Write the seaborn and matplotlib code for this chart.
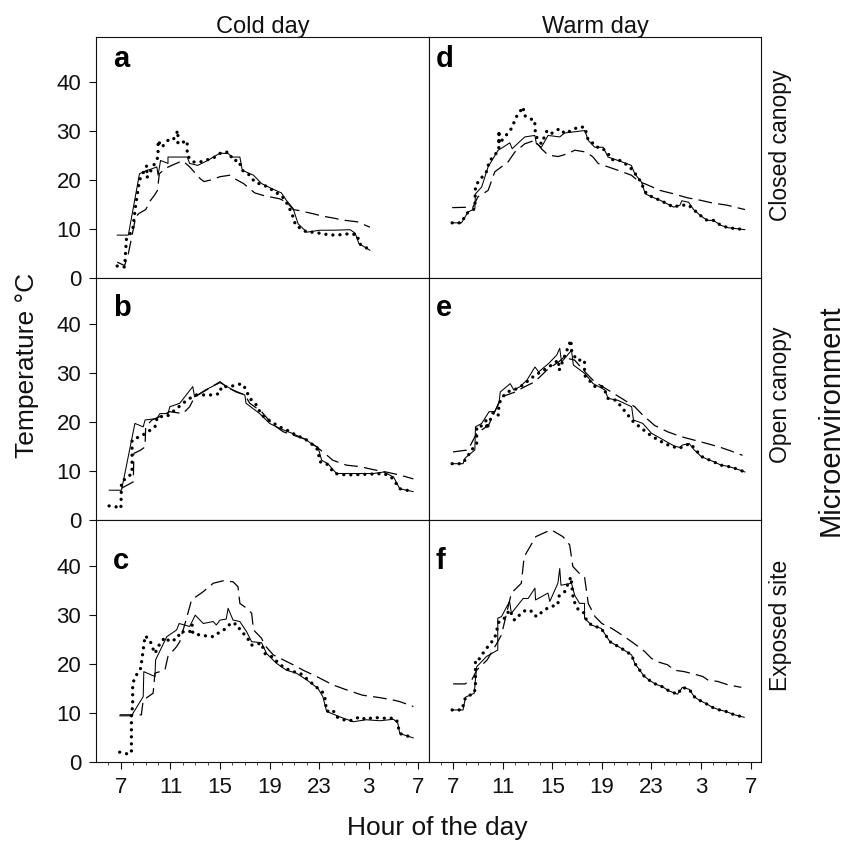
import matplotlib
matplotlib.use("Agg")
import matplotlib.pyplot as plt
import seaborn as sns
from matplotlib.ticker import FixedLocator, MultipleLocator, NullLocator

# ---- data (hour of day, temperature in degC) ----
# hours past midnight continue past 24, so 27 = 3 am, 31 = 7 am next day

# a: cold day, closed canopy
a_solid_h = [6.7, 7.6, 8.5, 9.1, 9.5, 9.9, 10.0, 10.2, 10.8, 10.8, 11.75, 12.35, 12.55, 13.2, 14.0, 15.0, 15.65, 16.0, 16.6, 16.8, 17.7, 18.35, 19.15, 19.95, 20.35, 20.9, 21.3, 22.0, 23.05, 24.1, 25.5, 25.9, 26.2, 27.1]
a_solid_t = [8.8, 8.8, 21.3, 22.0, 22.3, 22.7, 21.0, 24.0, 23.4, 24.7, 24.7, 24.7, 23.4, 23.0, 24.0, 25.5, 25.4, 24.7, 24.7, 22.0, 21.0, 19.3, 18.3, 17.4, 15.9, 14.2, 11.1, 9.4, 9.8, 9.8, 9.9, 9.2, 7.1, 5.7]
a_dot_h = [6.7, 7.3, 7.45, 7.95, 8.2, 8.5, 9.1, 9.1, 9.5, 10.0, 10.0, 10.3, 10.8, 11.2, 11.6, 11.6, 12.35, 12.35, 12.85, 13.4, 14.05, 14.6, 15.15, 15.7, 16.05, 16.5, 16.8, 17.4, 17.8, 18.35, 18.9, 19.4, 19.95, 20.35, 20.8, 21.1, 22.0, 22.6, 23.2, 23.7, 24.25, 24.8, 25.5, 26.1, 26.2, 26.7, 27.1]
a_dot_t = [2.5, 2.3, 8.1, 9.8, 15.0, 20.0, 23.0, 20.5, 22.3, 24.7, 28.1, 26.7, 28.1, 28.1, 30.1, 27.4, 28.0, 25.0, 23.7, 23.7, 24.2, 24.7, 25.7, 25.7, 24.0, 24.0, 22.0, 21.0, 19.6, 19.1, 18.6, 17.6, 16.9, 15.5, 13.2, 10.8, 9.4, 9.4, 9.1, 8.9, 8.8, 8.9, 9.1, 8.8, 7.1, 6.4, 5.7]
a_dash_h = [6.7, 7.3, 7.6, 8.2, 8.45, 9.0, 9.4, 9.7, 9.95, 10.1, 10.6, 11.1, 11.75, 12.0, 12.55, 13.4, 13.7, 14.2, 15.0, 15.8, 16.1, 16.9, 17.8, 18.6, 19.8, 20.4, 20.9, 21.4, 22.6, 23.2, 24.3, 24.8, 26.1, 27.1]
a_dash_t = [3.3, 2.6, 5.0, 12.5, 13.2, 14.0, 15.9, 16.9, 17.9, 21.3, 22.4, 23.0, 23.7, 23.9, 22.7, 20.3, 19.7, 20.0, 20.7, 21.0, 20.4, 19.3, 17.4, 16.8, 16.2, 15.5, 14.0, 13.8, 13.1, 12.7, 12.2, 11.9, 11.5, 10.4]

# b: cold day, open canopy
b_solid_h = [6.05, 7.05, 8.13, 8.8, 8.95, 9.9, 10.15, 10.8, 10.95, 11.75, 12.8, 12.95, 13.8, 15.0, 16.05, 17.0, 17.1, 18.2, 19.0, 19.8, 20.9, 22.0, 22.5, 22.9, 23.2, 23.7, 24.4, 25.2, 26.5, 27.35, 28.2, 29.0, 29.5, 30.6]
b_solid_t = [6.1, 6.1, 19.7, 19.0, 20.4, 20.7, 21.7, 21.7, 23.1, 23.8, 27.2, 25.1, 26.5, 28.0, 26.5, 25.5, 23.8, 21.7, 19.7, 18.7, 17.6, 16.3, 15.3, 14.9, 12.2, 11.5, 9.5, 9.5, 9.5, 9.5, 9.8, 8.8, 6.4, 5.8]
b_dot_h = [6.05, 6.65, 7.0, 7.05, 7.9, 7.9, 8.5, 8.95, 9.75, 9.95, 10.7, 11.5, 12.0, 12.55, 13.1, 13.9, 14.45, 15.0, 15.1, 15.8, 16.75, 17.15, 17.3, 17.95, 18.35, 19.15, 19.8, 20.5, 21.0, 22.0, 22.5, 22.9, 23.05, 23.6, 24.25, 25.2, 26.3, 27.35, 28.2, 28.8, 29.2, 29.5, 30.6]
b_dot_t = [2.9, 2.7, 2.4, 7.8, 9.5, 16.3, 17.0, 17.6, 19.0, 21.1, 21.1, 22.7, 23.8, 24.8, 25.5, 25.5, 25.5, 25.8, 27.2, 27.2, 27.8, 26.5, 25.1, 23.4, 21.4, 20.0, 19.0, 18.2, 17.5, 16.3, 15.3, 14.3, 11.9, 11.5, 9.5, 9.2, 9.3, 9.4, 9.5, 8.8, 7.5, 6.4, 5.8]
b_dash_h = [7.05, 8.0, 8.05, 8.55, 8.95, 9.0, 9.5, 10.15, 10.95, 12.0, 12.55, 12.95, 13.9, 15.0, 15.5, 16.3, 17.0, 17.4, 18.35, 19.15, 20.1, 20.9, 22.0, 22.8, 23.45, 24.1, 25.2, 26.3, 27.35, 28.4, 29.5, 30.6]
b_dash_t = [6.5, 7.8, 13.6, 14.2, 14.9, 19.0, 20.4, 21.1, 22.1, 21.7, 23.1, 25.1, 26.5, 28.2, 27.2, 26.1, 25.5, 23.8, 22.1, 19.7, 18.0, 17.3, 16.4, 14.9, 13.6, 12.2, 11.2, 10.9, 10.3, 9.8, 9.2, 8.4]

# c: cold day, exposed site
c_solid_h = [6.9, 7.85, 8.8, 8.85, 9.75, 9.8, 10.7, 11.5, 11.7, 12.55, 13.0, 13.65, 14.45, 14.7, 15.0, 15.5, 15.65, 16.05, 16.6, 17.15, 17.55, 18.35, 18.75, 19.55, 20.35, 21.15, 22.0, 22.9, 23.3, 23.6, 24.65, 25.75, 26.8, 27.9, 29.0, 29.35, 29.5, 30.6]
c_solid_t = [9.4, 9.4, 13.3, 18.4, 17.4, 20.8, 25.5, 26.9, 28.2, 27.6, 29.9, 28.2, 28.6, 27.9, 28.9, 29.1, 31.3, 28.9, 28.6, 26.5, 24.5, 24.3, 22.1, 20.1, 18.7, 18.1, 16.7, 15.0, 13.3, 10.3, 9.2, 8.2, 8.6, 8.4, 8.7, 7.9, 5.8, 4.9]
c_dot_h = [6.9, 7.6, 7.85, 7.85, 7.95, 7.95, 8.2, 8.6, 8.8, 8.95, 9.35, 9.5, 9.75, 10.0, 10.55, 10.95, 11.6, 11.75, 12.55, 12.75, 12.8, 13.65, 14.05, 14.45, 15.0, 15.5, 15.9, 16.45, 16.6, 17.15, 17.55, 18.35, 18.6, 19.3, 19.7, 20.25, 20.9, 21.45, 22.25, 22.8, 23.25, 23.45, 23.6, 24.1, 24.4, 24.95, 25.5, 26.3, 26.8, 27.35, 28.15, 28.7, 29.25, 29.35, 29.5, 30.6]
c_dot_t = [2.0, 1.6, 1.9, 9.9, 11.3, 16.0, 17.5, 19.1, 22.8, 25.7, 24.8, 23.6, 22.1, 23.5, 25.4, 24.5, 25.2, 26.5, 26.5, 27.9, 26.2, 25.7, 25.7, 25.5, 26.5, 27.2, 28.4, 27.9, 26.9, 25.5, 23.8, 24.2, 22.1, 21.3, 20.1, 19.1, 18.4, 18.1, 16.4, 15.2, 14.3, 13.3, 10.3, 10.6, 9.2, 8.6, 8.4, 9.2, 8.6, 9.1, 8.9, 9.0, 8.6, 7.5, 5.8, 4.9]
c_dash_h = [6.9, 8.65, 8.8, 9.6, 9.75, 10.55, 10.8, 11.5, 11.75, 12.3, 12.7, 13.65, 14.45, 15.25, 16.05, 16.45, 16.6, 17.15, 17.55, 17.7, 18.35, 18.6, 19.3, 20.1, 20.9, 21.7, 22.8, 24.1, 25.2, 26.5, 27.9, 29.0, 29.5, 30.6]
c_dash_t = [9.6, 9.6, 12.6, 14.0, 18.1, 18.7, 21.5, 23.5, 24.5, 29.3, 33.0, 34.7, 36.4, 36.9, 36.7, 35.7, 32.3, 31.3, 30.3, 26.9, 25.2, 23.8, 21.8, 20.8, 19.8, 18.7, 17.4, 15.7, 14.7, 13.6, 13.1, 12.6, 12.3, 11.3]

# d: warm day, closed canopy
d_solid_h = [6.92, 7.67, 8.2, 8.75, 8.8, 9.3, 9.82, 10.63, 11.03, 11.57, 11.76, 12.78, 13.59, 13.72, 14.12, 14.66, 15.6, 16.0, 17.62, 17.9, 18.42, 19.1, 19.5, 20.3, 21.38, 21.65, 22.2, 22.5, 23.2, 23.7, 24.25, 24.8, 25.3, 25.45, 26.0, 26.4, 26.95, 27.5, 28.0, 28.6, 29.2, 29.9, 30.55]
d_solid_t = [11.3, 11.3, 13.5, 14.2, 17.2, 18.6, 22.7, 26.1, 26.7, 27.6, 26.4, 28.8, 29.1, 27.4, 26.7, 29.1, 28.8, 29.6, 30.1, 28.1, 26.7, 26.7, 24.7, 24.0, 23.0, 21.3, 19.6, 17.2, 16.4, 15.9, 15.2, 14.5, 14.9, 15.8, 15.5, 14.0, 12.8, 11.8, 11.8, 10.8, 10.3, 10.1, 9.9]
d_dot_h = [6.92, 7.67, 8.07, 8.75, 8.8, 9.77, 9.88, 10.68, 10.7, 10.7, 11.17, 11.7, 12.1, 12.65, 12.73, 13.18, 13.59, 13.59, 13.72, 14.12, 14.58, 14.93, 15.6, 16.0, 16.54, 17.08, 17.62, 17.9, 18.16, 18.56, 18.96, 19.5, 19.77, 20.44, 21.1, 21.5, 22.05, 22.6, 23.2, 23.7, 24.25, 24.8, 25.3, 26.0, 26.4, 26.95, 27.5, 28.0, 28.6, 29.2, 29.9, 30.55]
d_dot_t = [11.3, 11.3, 13.2, 14.2, 18.9, 22.0, 23.7, 26.1, 30.1, 27.4, 28.8, 30.5, 32.9, 34.9, 33.2, 32.5, 32.2, 30.5, 28.8, 27.4, 30.1, 29.5, 30.5, 29.5, 30.1, 30.8, 30.8, 28.1, 27.8, 26.7, 26.7, 25.4, 24.2, 24.0, 23.0, 22.0, 20.0, 17.2, 16.4, 15.9, 15.2, 14.5, 14.9, 14.9, 14.0, 12.8, 11.8, 11.8, 10.8, 10.3, 10.1, 9.9]
d_dash_h = [6.92, 8.6, 9.0, 9.82, 10.36, 11.43, 11.97, 12.78, 13.59, 14.12, 14.66, 15.47, 16.27, 16.81, 17.75, 18.29, 18.7, 19.5, 20.3, 21.38, 22.05, 22.43, 23.7, 24.8, 25.9, 26.95, 28.0, 29.1, 30.55]
d_dash_t = [14.4, 14.5, 16.6, 17.9, 21.7, 23.7, 25.7, 27.4, 28.1, 26.4, 25.1, 24.8, 25.4, 26.1, 25.7, 24.7, 23.4, 22.7, 22.0, 21.0, 19.6, 19.3, 17.9, 17.2, 16.4, 15.9, 15.3, 14.9, 14.0]

# e: warm day, open canopy
e_solid_h = [6.92, 7.8, 7.95, 8.75, 8.8, 9.3, 9.9, 10.35, 10.7, 10.8, 11.6, 11.9, 12.4, 12.95, 13.6, 13.9, 14.7, 15.35, 15.6, 15.75, 16.55, 16.7, 17.6, 18.3, 19.25, 19.5, 20.3, 21.4, 21.55, 22.3, 23.0, 23.5, 24.2, 24.85, 25.3, 25.5, 26.05, 26.45, 27.0, 27.5, 28.05, 28.6, 29.1, 29.8, 30.55]
e_solid_t = [11.5, 11.5, 12.6, 14.3, 19.0, 19.7, 22.1, 22.1, 23.8, 26.1, 27.8, 26.5, 27.2, 28.5, 31.2, 30.2, 31.9, 33.6, 35.0, 32.2, 34.6, 31.6, 29.9, 27.8, 26.5, 24.8, 24.4, 23.1, 20.4, 19.7, 17.7, 17.0, 16.0, 15.1, 14.8, 15.3, 15.6, 14.3, 13.0, 12.4, 11.9, 11.2, 11.0, 10.5, 9.8]
e_dot_h = [6.92, 7.7, 7.95, 8.5, 8.9, 8.9, 9.2, 9.7, 9.7, 10.25, 10.65, 10.7, 11.2, 11.7, 12.25, 13.6, 14.55, 15.5, 15.55, 16.5, 16.55, 16.95, 17.6, 17.6, 18.45, 19.1, 19.5, 20.15, 21.55, 22.2, 22.75, 23.55, 24.35, 25.2, 26.1, 26.5, 27.0, 28.0, 28.6, 29.1, 29.8, 30.55]
e_dot_t = [11.5, 11.5, 12.2, 14.3, 15.6, 19.0, 19.0, 20.4, 18.5, 22.1, 21.4, 23.8, 25.8, 26.5, 26.8, 29.5, 30.9, 32.6, 30.5, 36.7, 34.6, 32.6, 32.6, 29.5, 27.2, 27.2, 24.8, 24.4, 20.0, 18.7, 17.6, 16.3, 15.3, 14.6, 15.6, 14.6, 13.0, 11.9, 11.2, 11.0, 10.5, 9.8]
e_dash_h = [6.99, 8.2, 8.9, 9.85, 10.9, 12.0, 12.8, 13.6, 14.7, 15.5, 16.0, 16.3, 16.8, 17.75, 18.4, 19.5, 20.6, 21.65, 22.3, 23.25, 24.3, 25.4, 26.45, 27.5, 28.6, 29.4, 30.35]
e_dash_t = [13.9, 14.3, 17.7, 19.3, 25.1, 26.1, 27.2, 28.2, 30.9, 32.2, 33.3, 32.9, 32.6, 29.9, 28.2, 26.5, 24.8, 23.1, 21.4, 19.3, 18.0, 17.0, 16.3, 15.6, 14.8, 14.1, 13.2]

# f: warm day, exposed site
f_solid_h = [6.92, 7.8, 8.0, 8.7, 8.8, 8.9, 9.7, 10.6, 10.6, 10.9, 11.55, 11.7, 12.65, 13.05, 13.6, 13.65, 14.65, 14.8, 15.45, 15.6, 15.7, 16.55, 16.8, 17.2, 17.6, 17.6, 18.15, 18.95, 19.65, 20.6, 21.4, 21.65, 22.4, 22.8, 23.3, 23.9, 24.4, 25.1, 25.5, 26.05, 26.45, 26.85, 27.4, 27.95, 28.5, 29.0, 29.7, 30.5]
f_solid_t = [10.6, 10.6, 13.2, 14.0, 16.8, 19.4, 21.5, 22.8, 29.3, 29.6, 32.7, 30.3, 33.3, 33.3, 35.4, 33.0, 34.4, 32.7, 36.4, 39.4, 36.0, 36.4, 34.0, 32.3, 32.3, 29.3, 27.9, 27.2, 24.5, 23.1, 21.8, 20.1, 17.5, 16.7, 15.9, 15.3, 14.5, 13.8, 15.2, 14.8, 13.3, 12.6, 11.9, 11.1, 10.6, 10.3, 9.6, 9.1]
f_dot_h = [6.92, 7.7, 8.0, 8.7, 8.8, 8.8, 9.05, 9.5, 9.9, 10.35, 10.7, 11.15, 11.55, 11.95, 12.5, 12.9, 13.45, 13.7, 14.4, 14.8, 15.45, 15.5, 16.0, 16.5, 16.7, 17.1, 17.6, 17.75, 18.15, 18.95, 19.65, 20.6, 21.4, 21.65, 22.4, 22.8, 23.3, 23.9, 24.4, 25.1, 25.5, 26.05, 26.45, 26.85, 27.4, 27.95, 28.5, 29.0, 29.7, 30.5]
f_dot_t = [10.6, 10.6, 13.2, 14.0, 15.3, 20.8, 20.8, 22.5, 23.8, 25.2, 28.6, 29.3, 31.0, 28.9, 30.3, 31.0, 30.6, 29.6, 31.0, 31.6, 32.0, 33.7, 34.7, 37.7, 33.0, 31.0, 30.3, 28.9, 27.9, 27.2, 24.5, 23.1, 21.8, 20.1, 17.5, 16.7, 15.9, 15.3, 14.5, 13.8, 15.2, 14.8, 13.3, 12.6, 11.9, 11.1, 10.6, 10.3, 9.6, 9.1]
f_dash_h = [7.0, 7.95, 8.5, 8.9, 9.75, 10.6, 10.9, 11.7, 12.5, 12.73, 13.67, 14.9, 15.85, 16.4, 16.66, 17.3, 17.6, 17.9, 18.45, 19.0, 19.8, 20.6, 21.4, 22.2, 22.45, 23.0, 23.5, 24.3, 24.85, 25.65, 26.45, 27.15, 27.55, 28.35, 29.2, 30.25]
f_dash_t = [15.9, 15.9, 16.7, 18.7, 20.8, 24.5, 25.9, 34.4, 36.4, 41.8, 45.9, 47.3, 45.9, 44.2, 39.8, 38.1, 37.7, 32.3, 29.6, 28.2, 27.2, 25.9, 24.5, 23.0, 22.5, 21.1, 20.4, 19.8, 18.7, 18.4, 17.9, 17.4, 16.7, 16.4, 15.7, 15.2]

panel_letters = ["a", "d", "b", "e", "c", "f"]
col_titles = ["Cold day", "Warm day"]
row_titles = ["Closed canopy", "Open canopy", "Exposed site"]
hour_ticks = [7, 11, 15, 19, 23, 27, 31]
hour_labels = ["7", "11", "15", "19", "23", "3", "7"]
temp_ticks = [0, 10, 20, 30, 40]

panels = {
    "a": (a_solid_h, a_solid_t, a_dot_h, a_dot_t, a_dash_h, a_dash_t),
    "b": (b_solid_h, b_solid_t, b_dot_h, b_dot_t, b_dash_h, b_dash_t),
    "c": (c_solid_h, c_solid_t, c_dot_h, c_dot_t, c_dash_h, c_dash_t),
    "d": (d_solid_h, d_solid_t, d_dot_h, d_dot_t, d_dash_h, d_dash_t),
    "e": (e_solid_h, e_solid_t, e_dot_h, e_dot_t, e_dash_h, e_dash_t),
    "f": (f_solid_h, f_solid_t, f_dot_h, f_dot_t, f_dash_h, f_dash_t),
}

sns.set_theme(style="ticks")
plt.rcParams["font.family"] = ["Liberation Sans", "DejaVu Sans"]
plt.rcParams["axes.linewidth"] = 0.8
plt.rcParams["axes.edgecolor"] = "#111111"
plt.rcParams["text.color"] = "#111111"

fig, axes = plt.subplots(3, 2, figsize=(8.5, 8.43), dpi=100, sharex=True, sharey=True)
fig.subplots_adjust(left=0.1135, right=0.8953, top=0.9567, bottom=0.0961, wspace=0, hspace=0)

letter_y = [0.874, 0.845, 0.80]

for i in range(3):
    for j in range(2):
        ax = axes[i, j]
        key = panel_letters[i * 2 + j]
        sh, st, dh, dt, ah, at = panels[key]
        sns.lineplot(x=ah, y=at, ax=ax, sort=False, estimator=None, color="black",
                     linewidth=0.9, linestyle=(0, (11, 5)))
        sns.lineplot(x=sh, y=st, ax=ax, sort=False, estimator=None, color="black",
                     linewidth=0.75)
        sns.lineplot(x=dh, y=dt, ax=ax, sort=False, estimator=None, color="black",
                     linewidth=2.4, linestyle=(0, (0.01, 2.1)), dash_capstyle="round")
        ax.set_xlim(5.03, 31.84)
        ax.set_ylim(0, 49.25)
        ax.set_xlabel("")
        ax.set_ylabel("")
        for s in ax.spines.values():
            s.set_visible(True)
        ax.xaxis.set_major_locator(FixedLocator(hour_ticks))
        ax.xaxis.set_minor_locator(MultipleLocator(1))
        ax.yaxis.set_minor_locator(NullLocator())
        ax.set_yticks(temp_ticks)
        ax.tick_params(axis="both", which="major", direction="out", length=5,
                       width=0.8, labelsize=16, colors="#111111", pad=6)
        ax.tick_params(axis="x", which="minor", direction="out", length=2.2, width=0.6)
        if i < 2:
            ax.tick_params(axis="x", which="both", bottom=False, labelbottom=False)
        else:
            ax.set_xticklabels(hour_labels)
        if j == 1:
            ax.tick_params(axis="y", which="both", left=False, labelleft=False)
        lx = 0.05 if j == 0 else 0.021
        ax.text(lx, letter_y[i], key, transform=ax.transAxes, fontsize=21,
                fontweight="bold", va="baseline", ha="left", color="black")

col_x = [262.75 / 850, 595 / 850]
for x, t in zip(col_x, col_titles):
    fig.text(x, 1 - 33 / 843, t, ha="center", va="baseline", fontsize=17)

row_y = [145, 395, 625]
for y, t in zip(row_y, row_titles):
    fig.text(780 / 850, 1 - y / 843, t, rotation=90, ha="center", va="center", fontsize=16.5)

fig.text(831 / 850, 1 - 420 / 843, "Microenvironment", rotation=90, ha="center",
         va="center", fontsize=21)
fig.text(27 / 850, 1 - 365 / 843, "Temperature \u00b0C", rotation=90, ha="center",
         va="center", fontsize=19)
fig.text(437 / 850, 1 - 835 / 843, "Hour of the day", ha="center", va="baseline",
         fontsize=19)

fig.savefig("out.png", dpi=100)
